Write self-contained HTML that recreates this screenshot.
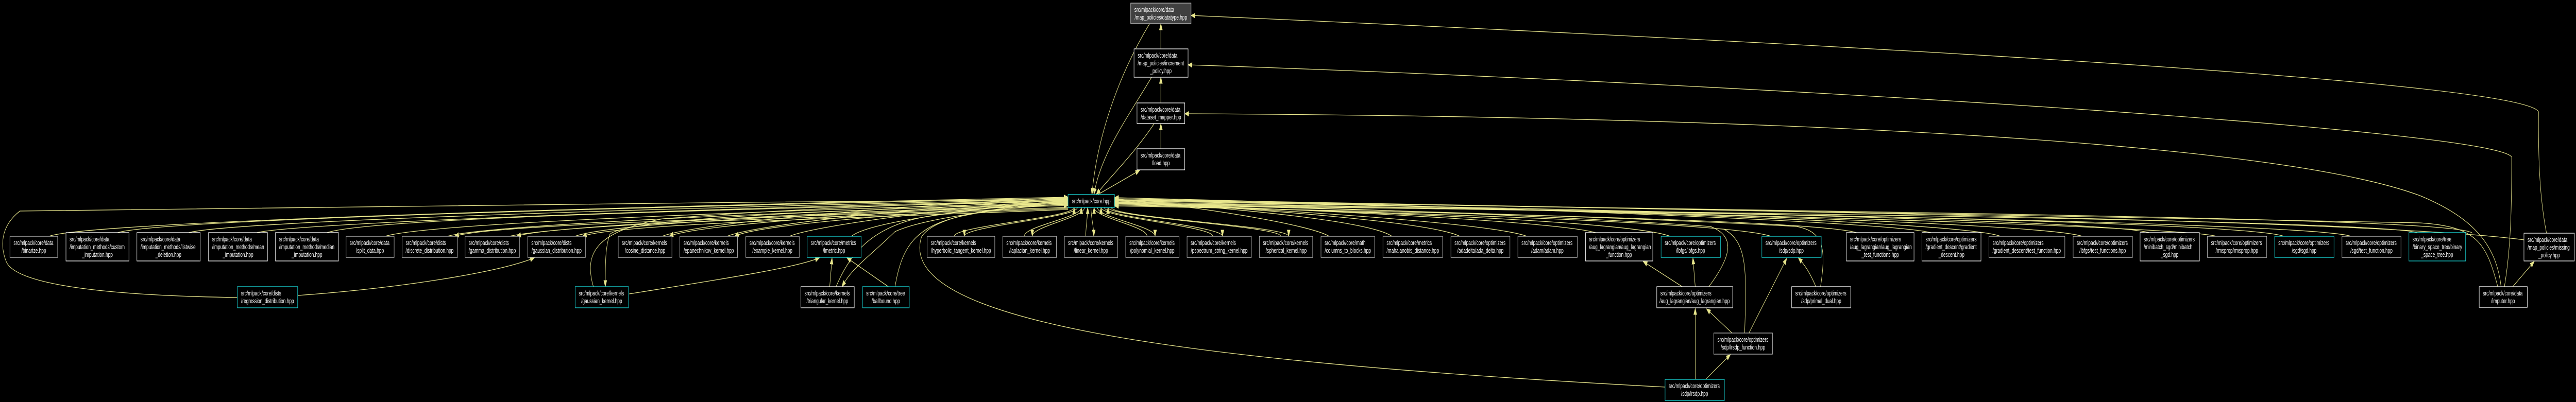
<!DOCTYPE html>
<html><head><meta charset="utf-8">
<style>
html,body{margin:0;padding:0;background:#000;width:100%;height:100%;overflow:hidden;}
svg{display:block;width:100vw;height:100vh;}
text{font-family:"Liberation Sans",Arial,sans-serif;font-size:13px;fill:#fff;}
.g{fill:#000;stroke:#bfbfbf;stroke-width:1.3}
.w{fill:#000;stroke:#fff;stroke-width:1.3}
.c{fill:#000;stroke:#1ad6d6;stroke-width:1.3}
.e{fill:none;stroke:#e8e68c;stroke-width:1.3}
.a{fill:#e8e68c;stroke:#e8e68c;stroke-width:1}
.m{text-anchor:middle}
</style></head>
<body>
<svg id="s" viewBox="0 0 7771 781" preserveAspectRatio="none" xmlns="http://www.w3.org/2000/svg">
<rect width="7771" height="781" fill="#000"/>
<g id="edges"></g>

<rect x="3411" y="6" width="182" height="40" fill="#404040" stroke="#bfbfbf" stroke-width="1.3"/>
<text x="3422" y="23">src/mlpack/core/data</text><text x="3502" y="38" class="m">/map_policies/datatype.hpp</text>
<rect class="w" x="3421" y="95" width="163" height="55"/>
<text x="3432" y="112">src/mlpack/core/data</text><text x="3432" y="127">/map_policies/increment</text><text x="3502" y="142" class="m">_policy.hpp</text>
<rect class="w" x="3430" y="200" width="144" height="40"/>
<text x="3441" y="217">src/mlpack/core/data</text><text x="3502" y="232" class="m">/dataset_mapper.hpp</text>
<rect class="w" x="3430" y="289" width="144" height="41"/>
<text x="3441" y="306">src/mlpack/core/data</text><text x="3502" y="321" class="m">/load.hpp</text>

<rect class="c" x="3222" y="378" width="140" height="25"/>
<text x="3292" y="395" class="m">src/mlpack/core.hpp</text>

<rect class="g" x="30" y="459" width="144" height="41"/><text x="41" y="476">src/mlpack/core/data</text><text x="102" y="491" class="m">/binarize.hpp</text>
<rect class="w" x="199" y="452" width="190" height="55"/><text x="210" y="469">src/mlpack/core/data</text><text x="210" y="484">/imputation_methods/custom</text><text x="294" y="499" class="m">_imputation.hpp</text>
<rect class="w" x="413" y="452" width="191" height="55"/><text x="424" y="469">src/mlpack/core/data</text><text x="424" y="484">/imputation_methods/listwise</text><text x="508" y="499" class="m">_deletion.hpp</text>
<rect class="w" x="629" y="452" width="178" height="55"/><text x="640" y="469">src/mlpack/core/data</text><text x="640" y="484">/imputation_methods/mean</text><text x="718" y="499" class="m">_imputation.hpp</text>
<rect class="w" x="831" y="452" width="190" height="55"/><text x="842" y="469">src/mlpack/core/data</text><text x="842" y="484">/imputation_methods/median</text><text x="926" y="499" class="m">_imputation.hpp</text>
<rect class="g" x="1044" y="459" width="145" height="41"/><text x="1055" y="476">src/mlpack/core/data</text><text x="1116" y="491" class="m">/split_data.hpp</text>
<rect class="g" x="1213" y="459" width="167" height="41"/><text x="1224" y="476">src/mlpack/core/dists</text><text x="1296" y="491" class="m">/discrete_distribution.hpp</text>
<rect class="g" x="1403" y="459" width="164" height="41"/><text x="1414" y="476">src/mlpack/core/dists</text><text x="1485" y="491" class="m">/gamma_distribution.hpp</text>
<rect class="g" x="1592" y="459" width="174" height="41"/><text x="1603" y="476">src/mlpack/core/dists</text><text x="1679" y="491" class="m">/gaussian_distribution.hpp</text>
<rect class="g" x="1865" y="459" width="162" height="41"/><text x="1876" y="476">src/mlpack/core/kernels</text><text x="1946" y="491" class="m">/cosine_distance.hpp</text>
<rect class="g" x="2051" y="459" width="174" height="41"/><text x="2062" y="476">src/mlpack/core/kernels</text><text x="2138" y="491" class="m">/epanechnikov_kernel.hpp</text>
<rect class="g" x="2250" y="459" width="161" height="41"/><text x="2261" y="476">src/mlpack/core/kernels</text><text x="2330" y="491" class="m">/example_kernel.hpp</text>
<rect class="c" x="2435" y="459" width="163" height="41"/><text x="2446" y="476">src/mlpack/core/metrics</text><text x="2516" y="491" class="m">/lmetric.hpp</text>
<rect class="g" x="2797" y="459" width="204" height="41"/><text x="2808" y="476">src/mlpack/core/kernels</text><text x="2899" y="491" class="m">/hyperbolic_tangent_kernel.hpp</text>
<rect class="g" x="3025" y="459" width="162" height="41"/><text x="3036" y="476">src/mlpack/core/kernels</text><text x="3106" y="491" class="m">/laplacian_kernel.hpp</text>
<rect class="g" x="3211" y="459" width="161" height="41"/><text x="3222" y="476">src/mlpack/core/kernels</text><text x="3291" y="491" class="m">/linear_kernel.hpp</text>
<rect class="g" x="3396" y="459" width="161" height="41"/><text x="3407" y="476">src/mlpack/core/kernels</text><text x="3476" y="491" class="m">/polynomial_kernel.hpp</text>
<rect class="g" x="3581" y="459" width="194" height="41"/><text x="3592" y="476">src/mlpack/core/kernels</text><text x="3678" y="491" class="m">/pspectrum_string_kernel.hpp</text>
<rect class="g" x="3799" y="459" width="161" height="41"/><text x="3810" y="476">src/mlpack/core/kernels</text><text x="3880" y="491" class="m">/spherical_kernel.hpp</text>
<rect class="g" x="3985" y="459" width="162" height="41"/><text x="3996" y="476">src/mlpack/core/math</text><text x="4066" y="491" class="m">/columns_to_blocks.hpp</text>
<rect class="g" x="4172" y="459" width="180" height="41"/><text x="4183" y="476">src/mlpack/core/metrics</text><text x="4262" y="491" class="m">/mahalanobis_distance.hpp</text>
<rect class="g" x="4377" y="459" width="178" height="41"/><text x="4388" y="476">src/mlpack/core/optimizers</text><text x="4466" y="491" class="m">/adadelta/ada_delta.hpp</text>
<rect class="g" x="4579" y="459" width="179" height="41"/><text x="4590" y="476">src/mlpack/core/optimizers</text><text x="4668" y="491" class="m">/adam/adam.hpp</text>
<rect class="w" x="4783" y="452" width="203" height="55"/><text x="4794" y="469">src/mlpack/core/optimizers</text><text x="4794" y="484">/aug_lagrangian/aug_lagrangian</text><text x="4884" y="499" class="m">_function.hpp</text>
<rect class="c" x="5011" y="459" width="179" height="41"/><text x="5022" y="476">src/mlpack/core/optimizers</text><text x="5100" y="491" class="m">/lbfgs/lbfgs.hpp</text>
<rect class="c" x="5315" y="459" width="179" height="41"/><text x="5326" y="476">src/mlpack/core/optimizers</text><text x="5404" y="491" class="m">/sdp/sdp.hpp</text>
<rect class="w" x="5570" y="452" width="204" height="55"/><text x="5581" y="469">src/mlpack/core/optimizers</text><text x="5581" y="484">/aug_lagrangian/aug_lagrangian</text><text x="5672" y="499" class="m">_test_functions.hpp</text>
<rect class="w" x="5798" y="452" width="178" height="55"/><text x="5809" y="469">src/mlpack/core/optimizers</text><text x="5809" y="484">/gradient_descent/gradient</text><text x="5887" y="499" class="m">_descent.hpp</text>
<rect class="g" x="6000" y="459" width="229" height="41"/><text x="6011" y="476">src/mlpack/core/optimizers</text><text x="6114" y="491" class="m">/gradient_descent/test_function.hpp</text>
<rect class="g" x="6254" y="459" width="179" height="41"/><text x="6265" y="476">src/mlpack/core/optimizers</text><text x="6343" y="491" class="m">/lbfgs/test_functions.hpp</text>
<rect class="w" x="6456" y="452" width="179" height="55"/><text x="6467" y="469">src/mlpack/core/optimizers</text><text x="6467" y="484">/minibatch_sgd/minibatch</text><text x="6545" y="499" class="m">_sgd.hpp</text>
<rect class="g" x="6659" y="459" width="179" height="41"/><text x="6670" y="476">src/mlpack/core/optimizers</text><text x="6748" y="491" class="m">/rmsprop/rmsprop.hpp</text>
<rect class="c" x="6862" y="459" width="179" height="41"/><text x="6873" y="476">src/mlpack/core/optimizers</text><text x="6951" y="491" class="m">/sgd/sgd.hpp</text>
<rect class="g" x="7065" y="459" width="178" height="41"/><text x="7076" y="476">src/mlpack/core/optimizers</text><text x="7154" y="491" class="m">/sgd/test_function.hpp</text>
<rect class="c" x="7267" y="452" width="171" height="55"/><text x="7278" y="469">src/mlpack/core/tree</text><text x="7278" y="484">/binary_space_tree/binary</text><text x="7352" y="499" class="m">_space_tree.hpp</text>
<rect class="w" x="7614" y="453" width="152" height="54"/><text x="7625" y="470">src/mlpack/core/data</text><text x="7625" y="485">/map_policies/missing</text><text x="7690" y="500" class="m">_policy.hpp</text>

<rect class="c" x="716" y="557" width="182" height="41"/><text x="727" y="574">src/mlpack/core/dists</text><text x="807" y="589" class="m">/regression_distribution.hpp</text>
<rect class="c" x="1735" y="557" width="161" height="41"/><text x="1746" y="574">src/mlpack/core/kernels</text><text x="1815" y="589" class="m">/gaussian_kernel.hpp</text>
<rect class="w" x="2416" y="557" width="161" height="41"/><text x="2427" y="574">src/mlpack/core/kernels</text><text x="2496" y="589" class="m">/triangular_kernel.hpp</text>
<rect class="c" x="2602" y="557" width="141" height="41"/><text x="2613" y="574">src/mlpack/core/tree</text><text x="2672" y="589" class="m">/ballbound.hpp</text>
<rect class="w" x="4998" y="557" width="229" height="41"/><text x="5009" y="574">src/mlpack/core/optimizers</text><text x="5112" y="589" class="m">/aug_lagrangian/aug_lagrangian.hpp</text>
<rect class="w" x="5405" y="557" width="178" height="41"/><text x="5416" y="574">src/mlpack/core/optimizers</text><text x="5494" y="589" class="m">/sdp/primal_dual.hpp</text>
<rect class="w" x="7479" y="557" width="145" height="40"/><text x="7490" y="574">src/mlpack/core/data</text><text x="7551" y="589" class="m">/imputer.hpp</text>
<rect class="g" x="5170" y="647" width="177" height="41"/><text x="5181" y="664">src/mlpack/core/optimizers</text><text x="5258" y="679" class="m">/sdp/lrsdp_function.hpp</text>
<rect class="c" x="5023" y="737" width="179" height="41"/><text x="5034" y="754">src/mlpack/core/optimizers</text><text x="5112" y="769" class="m">/sdp/lrsdp.hpp</text>
</svg>
<script>
(function(){
var g=document.getElementById('edges'),NS='http://www.w3.org/2000/svg';
function P(d){var p=document.createElementNS(NS,'path');p.setAttribute('d',d);p.setAttribute('class','e');g.appendChild(p);}
function A(x,y,px,py){var dx=x-px,dy=y-py,l=Math.sqrt(dx*dx+dy*dy)||1;dx/=l;dy/=l;
var bx=x-dx*12,by=y-dy*12,nx=-dy*4.5,ny=dx*4.5;
var p=document.createElementNS(NS,'polygon');p.setAttribute('points',x+','+y+' '+(bx+nx)+','+(by+ny)+' '+(bx-nx)+','+(by-ny));p.setAttribute('class','a');g.appendChild(p);}
function E(x1,y1,c1x,c1y,c2x,c2y,x2,y2,head){P('M'+x1+','+y1+' C'+c1x+','+c1y+' '+c2x+','+c2y+' '+x2+','+y2);if(head)A(x2,y2,c2x,c2y);}
function L(x1,y1,x2,y2,head){P('M'+x1+','+y1+' L'+x2+','+y2);if(head)A(x2,y2,x1,y1);}
var B=[[30,174,459,0],[199,389,452,0],[413,604,452,0],[629,807,452,0],[831,1021,452,0],[1044,1189,459,0],[1213,1380,459,1],[1403,1567,459,1],[1592,1766,459,1],[1865,2027,459,1],[2051,2225,459,1],[2250,2411,459,0],[2435,2598,459,0],
[2797,3001,459,1],[3025,3187,459,1],[3211,3372,459,1],[3396,3557,459,1],[3581,3775,459,1],[3799,3960,459,1],
[3985,4147,459,0],[4172,4352,459,0],[4377,4555,459,0],[4579,4758,459,0],[4783,4986,452,0],[5011,5190,459,0],[5315,5494,459,0],[5570,5774,452,0],[5798,5976,452,0],[6000,6229,459,0],[6254,6433,459,0],[6456,6635,452,0],[6659,6838,459,0],[6862,7041,459,0],[7065,7243,459,0],[7267,7438,452,0]];
var CL=3222,CR=3362,CY=391,CB=403;
B.forEach(function(b,i){var x1=b[0],x2=b[1],t=b[2],w=x2-x1,c=(x1+x2)/2;
 if(x2<2700){var sx=x2-0.18*w,ty=383+(i%9)*2,dx=CL-sx;
  E(sx,t,sx+Math.min(120,dx*0.08),t-28+(i%4)*3,CL-dx*0.45,ty+(t-ty)*0.25,CL,ty,1);
  if(b[3]){var ex=x2-0.05*w,sy=ty+6;E(CL,sy+2,CL-(CL-ex)*0.45,sy+(t-sy)*0.35,ex+Math.min(110,(CL-ex)*0.07),t-24,ex,t,1);}
 } else if(c>4000){var sx=x1+0.15*w,ty=384+(i%9)*2,dx=sx-CR;
  E(sx,t,sx-Math.min(120,dx*0.08),t-30+(i%4)*3,CR+dx*0.45,ty+(t-ty)*0.25,CR,ty,1);
 } else {var f=(c-2800)/1200;var tx=CL+8+f*125,sx=c-0.1*w;
  var ty=(tx<CL+15||tx>CR-15)?CB-4:CB;
  E(sx,t,sx,t-20,tx,ty+20,tx,ty,1);
  if(b[3]){var ex=c+0.05*w,s2=tx+10;E(s2,ty,s2,ty+20,ex,t-20,ex,t,1);}
 }
});
L(3502,95,3502,46,1);L(3502,200,3502,150,1);L(3502,289,3502,240,1);
E(3468,46,3380,140,3310,260,3294,378,1);
E(3474,150,3400,230,3320,300,3300,378,1);
E(3482,240,3420,300,3340,350,3307,378,1);
L(3312,378,3438,331,1);
E(7682,453,7660,380,7657,300,7658,217);E(7658,217,7600,150,5000,70,3593,30,1);
E(7555,557,7575,480,7577,400,7577,305);E(7577,305,7520,250,5200,160,3584,126,1);
E(7545,557,7530,470,7450,420,7300,380);E(7300,380,6800,260,5000,225,3574,221,1);
L(7580,557,7645,508,1);
E(7535,557,7500,470,7470,440,7300,433);E(7300,433,6500,415,5000,400,CR,386,1);
E(7614,466,7200,430,5500,410,CR,388,1);
E(7458,453,7420,425,6000,415,CR,389,1);
E(3222,388,2000,395,300,400,60,410);E(60,410,0,440,0,480,20,510);E(20,510,60,560,400,575,716,578);
E(898,574,1200,560,1500,530,1612,501,1);
E(1790,557,1760,490,1800,450,2000,425);E(2000,425,2500,400,3000,392,CL,390,1);
E(CL,395,2700,405,1900,420,1840,455);E(1840,455,1825,480,1826,520,1826,557,1);
E(1898,571,2200,540,2400,520,2472,501,1);
L(2503,557,2510,501,1);L(2680,557,2555,501,1);
E(2522,557,2560,500,2620,440,2800,420);E(2800,420,3000,400,3100,395,CL,393,1);
E(CL,396,3100,400,2800,420,2700,450);E(2700,450,2620,500,2570,520,2540,557,1);
E(2700,557,2720,480,2760,440,2900,420);E(2900,420,3050,400,3150,396,CL,394,1);
E(5023,752,3500,700,2700,620,2780,460);E(2780,460,2820,420,3000,400,CL,397,1);
L(5075,557,4957,508,1);L(5114,557,5107,501,1);
E(5155,557,5220,500,5240,460,5160,440);E(5160,440,4600,415,3800,400,CR,393,1);
L(5225,647,5148,600,1);L(5276,647,5390,502,1);
E(5263,647,5270,520,5270,470,5200,445);
E(5478,557,5460,530,5445,515,5425,501,1);
E(5492,557,5510,480,5500,450,5420,440);E(5420,440,4800,418,3800,402,CR,395,1);
L(5114,737,5114,599,1);L(5145,737,5220,689,1);
})();
</script>
</body></html>
